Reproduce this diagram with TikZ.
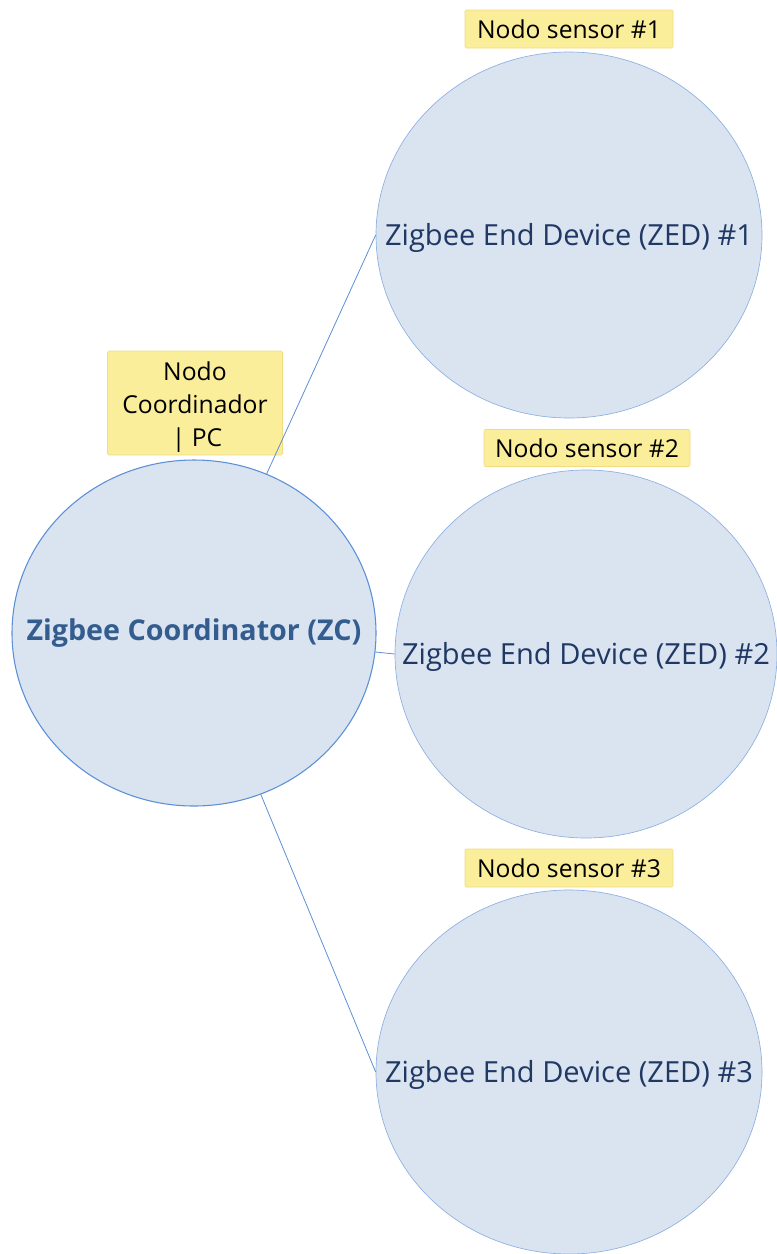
\documentclass[tikz,border=0pt]{standalone}
\usepackage{fontspec}
\setmainfont{Open Sans}
\usetikzlibrary{shapes.geometric}
\definecolor{zbfill}{HTML}{DAE3F0}
\definecolor{zbline}{HTML}{5B8FD6}
\definecolor{zbtext}{HTML}{1F3864}
\definecolor{zctext}{HTML}{335C8F}
\definecolor{tagfill}{HTML}{FBEE9B}
\definecolor{tagline}{HTML}{F2DC82}

\begin{document}
\begin{tikzpicture}[x=0.75pt, y=-0.75pt,
    device/.style={ellipse, draw=zbline!70, line width=0.5pt, fill=zbfill, inner sep=0pt},
    tag/.style={draw=tagline, fill=tagfill, inner sep=3pt, rounded corners=1pt, font=\fontsize{18.5}{24.5}\selectfont, text=black},
    link/.style={draw=zbline, line width=0.6pt}]
    \useasboundingbox (0,0) rectangle (777,1254);
    % devices
    \node[device, draw=zbline, line width=0.8pt, minimum width=364*0.75pt, minimum height=346*0.75pt,
        label={[text=zctext, font=\bfseries\fontsize{21.5}{26}\selectfont]center:Zigbee Coordinator (ZC)}] (zc) at (194,633) {};
    \node[device, minimum width=386*0.75pt, minimum height=366*0.75pt,
        label={[text=zbtext, font=\fontsize{21.8}{26}\selectfont, yshift=-2pt]center:Zigbee End Device (ZED) \#1}] (zed1) at (569,235) {};
    \node[device, minimum width=382*0.75pt, minimum height=368*0.75pt,
        label={[text=zbtext, font=\fontsize{21.8}{26}\selectfont, yshift=-2pt]center:Zigbee End Device (ZED) \#2}] (zed2) at (586,654) {};
    \node[device, minimum width=386*0.75pt, minimum height=364*0.75pt,
        label={[text=zbtext, font=\fontsize{21.8}{26}\selectfont, yshift=-2pt]center:Zigbee End Device (ZED) \#3}] (zed3) at (569,1072) {};
    % tags
    \node[tag, minimum width=208*0.75pt, minimum height=38*0.75pt] (s1) at (569,29) {Nodo sensor \#1};
    \node[tag, minimum width=206*0.75pt, minimum height=37*0.75pt] (s2) at (587,448) {Nodo sensor \#2};
    \node[tag, minimum width=208*0.75pt, minimum height=38*0.75pt] (s3) at (569,868) {Nodo sensor \#3};
    \node[tag, minimum width=175*0.75pt, minimum height=104*0.75pt] (pc) at (195,403) {};
    \node[font=\fontsize{18.5}{24.5}\selectfont, align=center, yshift=-3pt] (pctext) at (pc) {Nodo\\Coordinador\\ \,| PC};
    % links
    \draw[link] (zc) -- (zed1.west);
    \draw[link] (zc) -- (zed2.west);
    \draw[link] (zc) -- (zed3.west);
\end{tikzpicture}
\end{document}
